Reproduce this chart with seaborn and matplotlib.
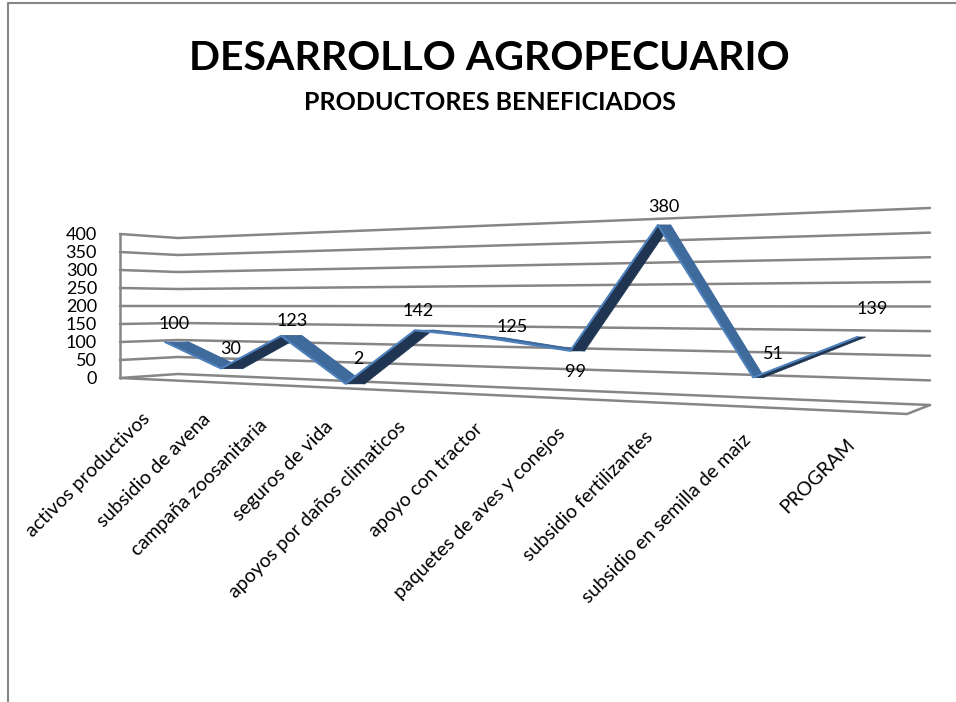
import numpy as np
import pandas as pd
import matplotlib
matplotlib.use("Agg")
import matplotlib.pyplot as plt
import seaborn as sns

categories = ["activos productivos", "subsidio de avena", "campaña zoosanitaria",
              "seguros de vida", "apoyos por daños climaticos", "apoyo con tractor",
              "paquetes de aves y conejos", "subsidio fertilizantes",
              "subsidio en semilla de maiz", "PROGRAM"]
values = [100, 30, 123, 2, 142, 125, 99, 380, 51, 139]
value_ticks = [0, 50, 100, 150, 200, 250, 300, 350, 400]
title_text = "DESARROLLO AGROPECUARIO"
subtitle_text = "PRODUCTORES BENEFICIADOS"

# label placement relative to the projected ribbon point (pixels)
label_dx = [9, 9, 11, 13, 3, 23, 5, 6, 20, 15]
label_dy = [-18, -19, -15, -25, -19, -11, 21, -18, -23, -28]
cat_end_x = [147, 208, 265, 330, 403, 480, 562, 650, 748, 852]
cat_end_y = [416, 416, 422, 424, 424, 426, 431, 434, 437, 442]

GRID = "#868686"
FACE = "#3f6a9c"
UNDER = "#1f3552"
EDGE = "#4f81bd"

sns.set_theme(style="white")
plt.rcParams["font.family"] = ["Lato", "DejaVu Sans"]

fig = plt.figure(figsize=(9.56, 7.02), dpi=100, facecolor="white")
ax = fig.add_axes([0, 0, 1, 1])
ax.set_xlim(0, 956)
ax.set_ylim(702, 0)
ax.axis("off")


def ribbon(k, v, back=False):
    """Perspective projection of category index and value to the canvas."""
    k = np.asarray(k, float)
    v = np.asarray(v, float)
    w = 1 - 0.0327 * k
    y = (377 - 10.06 * k - 0.35 * v) / w
    x = ((47 * k + 188) if back else (48.9 * k + 165)) / w
    return x, y


def wall_left(v):
    return 378 - 0.36 * np.asarray(v, float)


def wall_corner(v):
    return 374 - 0.34 * np.asarray(v, float)


def wall_right(v):
    return 405 - 0.4925 * np.asarray(v, float)


X_FRONT, X_CORNER, X_RIGHT, X_FRONT_RIGHT, Y_FRONT_RIGHT = 120, 178, 930, 907, 414

# Walls and gridlines
rows = []
for v in value_ticks:
    for x, y in zip((X_FRONT, X_CORNER, X_RIGHT),
                    (wall_left(v), wall_corner(v), wall_right(v))):
        rows.append({"tick": v, "x": x, "y": float(y)})
grid = pd.DataFrame(rows)
sns.lineplot(data=grid, x="x", y="y", units="tick", estimator=None, sort=False,
             color=GRID, lw=1.8, ax=ax, legend=False)

floor = pd.DataFrame({"x": [X_FRONT, X_FRONT_RIGHT, X_RIGHT],
                      "y": [wall_left(0), Y_FRONT_RIGHT, wall_right(0)]})
sns.lineplot(data=floor, x="x", y="y", estimator=None, sort=False, color=GRID, lw=1.8,
             ax=ax, legend=False)
ax.plot([X_FRONT, X_FRONT], [wall_left(0), wall_left(400)], color=GRID, lw=1.8)

# Ribbon
idx = np.arange(len(values))
xf, yf = ribbon(idx, values)
xb, yb = ribbon(idx, values, back=True)
for i in range(len(values) - 1):
    color = UNDER if values[i + 1] > values[i] else FACE
    ax.fill([xf[i], xf[i + 1], xb[i + 1], xb[i]], [yf[i], yf[i + 1], yb[i + 1], yb[i]],
            color=color, lw=0.5, zorder=3)
    if values[i + 1] <= values[i]:
        ax.plot([xb[i], xb[i + 1]], [yb[i], yb[i + 1]], color=FACE, lw=1, zorder=3)
top = pd.DataFrame({"x": xf, "y": yf})
sns.lineplot(data=top, x="x", y="y", estimator=None, sort=False, color=EDGE, lw=1.5,
             ax=ax, legend=False, zorder=4)

# Text
ax.text(489.5, 70.5, title_text, fontsize=29.5, fontweight="bold", ha="center", va="baseline",
        color="black")
ax.text(490, 109.5, subtitle_text, fontsize=18, fontweight="bold", ha="center", va="baseline",
        color="black")
for v in value_ticks:
    ax.text(97, wall_left(v) + 1, str(v), fontsize=13, ha="right", va="center", color="black")
for x, y, v, dx, dy in zip(xf, yf, values, label_dx, label_dy):
    ax.text(x + dx, y + dy, str(v), fontsize=13, ha="center", va="center", color="black",
            zorder=5)
for name, x, y in zip(categories, cat_end_x, cat_end_y):
    ax.text(x, y, name, fontsize=14, rotation=45, rotation_mode="anchor", ha="right",
            va="center", color="black")

# Chart frame
ax.plot([8, 8, 956], [702, 3, 3], color=GRID, lw=1.5, clip_on=False)
ax.set_xlabel("")
ax.set_ylabel("")
fig.savefig("out.png", dpi=100, facecolor="white")
